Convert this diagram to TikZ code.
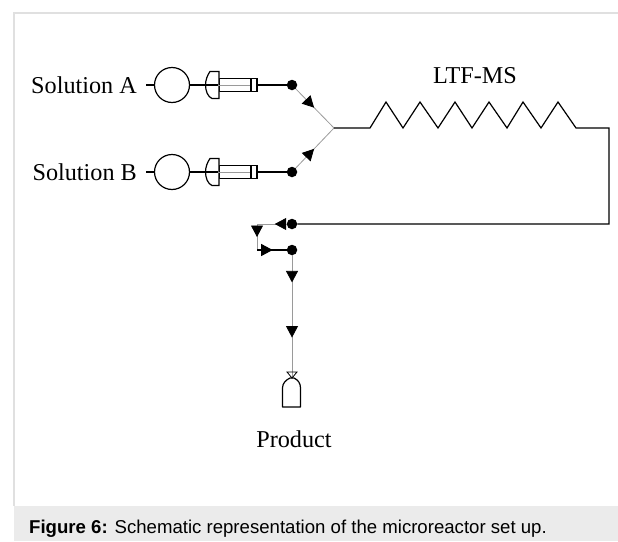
\documentclass[tikz,border=0pt]{standalone}
\usepackage{fontspec}
\setmainfont{Liberation Serif}
\newfontfamily\capfont{Liberation Sans}
\usetikzlibrary{arrows.meta,decorations.markings}
\definecolor{framegray}{HTML}{E0E0E0}
\definecolor{capgray}{HTML}{EBEBEB}
\definecolor{tubegray}{HTML}{9A9A9A}

\begin{document}
\begin{tikzpicture}[x=1pt,y=-1pt,font=\fontsize{24.2}{28}\selectfont,
 pipe/.style={draw=black,line width=1.2pt},
 tube/.style={draw=tubegray,line width=0.8pt},
 joint/.style={circle,fill=black,inner sep=0pt,minimum size=10.5pt},
 pump/.style={circle,draw=black,line width=1.2pt,inner sep=0pt,minimum size=35pt},
 barrel/.style={rectangle,draw=black,line width=1.2pt,inner sep=0pt,minimum height=13pt},
 flowhead/.style={postaction={decorate,decoration={markings,mark=at position #1 with {\arrow[black]{Triangle[length=11.5pt,width=12pt]}}}}}]
\useasboundingbox (0,0) rectangle (618,541);
\fill[capgray] (14,506) rectangle (618,541);
\draw[framegray,line width=1.5pt] (618,13) -- (14,13) -- (14,506);
\foreach \name/\ypos/\lab in {a/85/Solution A,b/172/Solution B} {
 \node[anchor=east,inner sep=0pt] (sol\name) at (137,\ypos) {\lab};
 \coordinate (stub\name) at (146,\ypos);
 \node[pump] (pump\name) at (172,\ypos) {};
 \node[barrel,minimum width=32pt] (barrel\name) at (235,\ypos) {};
 \node[barrel,minimum width=6pt] (plunger\name) at (254,\ypos) {};
 \node[joint] (dot\name) at (292,\ypos) {};
 \draw[pipe,fill=white] (219,\ypos-13.5) -- (210,\ypos-13.5) .. controls (207.5,\ypos-10) and (205.5,\ypos-5) .. (205.5,\ypos) .. controls (205.5,\ypos+6) and (208,\ypos+12) .. (212,\ypos+13.5) -- (219,\ypos+13.5) -- cycle;
 \draw[pipe] (stub\name) -- (pump\name);
 \draw[pipe] (pump\name) -- (barrel\name);
 \draw[tube] (barrel\name.west) -- (plunger\name.west);
 \draw[pipe] (plunger\name.east) -- (dot\name);
}
\coordinate (merge) at (334,128);
\draw[tube,flowhead=0.48] (dota) -- (merge);
\draw[tube,flowhead=0.48] (dotb) -- (merge);
\node (reactor) at (475,76) {LTF-MS};
\coordinate (turn) at (609,128);
\node[joint] (dotc) at (292,224) {};
\node[joint] (dotd) at (292,250) {};
\draw[pipe] (merge) -- (370,128) -- (386,102) -- (403,128) -- (420,102) -- (438,128) -- (455,102) -- (472,128) -- (489,102) -- (507,128) -- (523,102) -- (541,128) -- (558,102) -- (576,128) -- (turn) -- (609,224) -- (dotc);
\coordinate (bend) at (257,224);
\coordinate (bendlow) at (257,250);
\draw[tube,flowhead=0.4] (dotc) -- (bend);
\draw[tube,flowhead=0.5] (bend) -- (bendlow);
\draw[pipe,flowhead=0.53] (bendlow) -- (dotd);
\coordinate (bottle) at (292,378);
\draw[tube,flowhead=0.22,flowhead=0.67] (dotd) -- (bottle);
\draw[pipe,fill=white,line join=round] (282.5,407) -- (282.5,388) .. controls (282.5,383) and (286,380) .. (290,378) -- (294,378) .. controls (298,380) and (300.5,383) .. (300.5,388) -- (300.5,407) -- cycle;
\draw[pipe,line width=0.8pt] (287,372) -- (297,372) -- (292,378) -- cycle;
\node (prod) at (294,439) {Product};
\node[anchor=west,inner sep=0pt,font=\fontsize{18.6}{22}\selectfont] (caption) at (29,529) {\capfont\textbf{Figure 6:} Schematic representation of the microreactor set up.};
\end{tikzpicture}
\end{document}
